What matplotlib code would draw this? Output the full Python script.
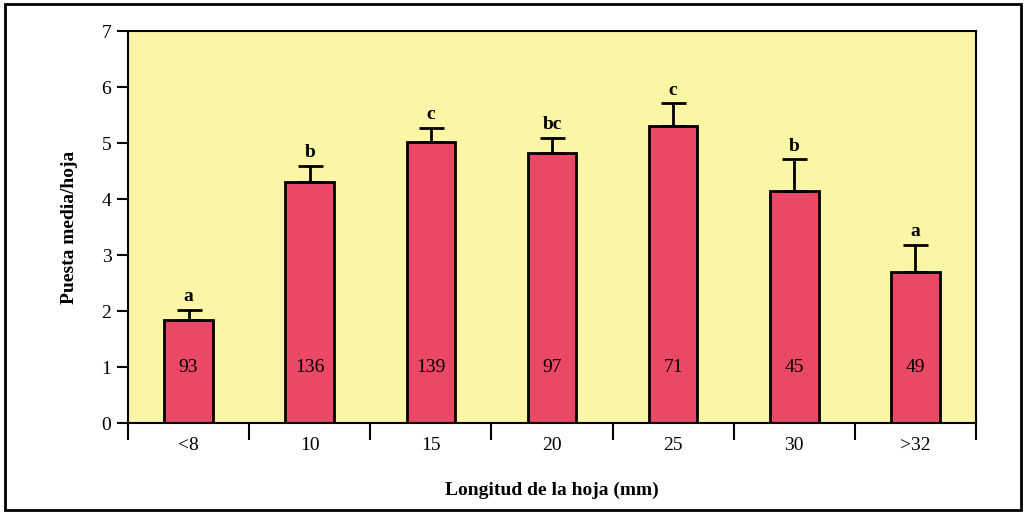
import numpy as np
import matplotlib.pyplot as plt
from matplotlib.patches import Rectangle

categories = ['<8', '10', '15', '20', '25', '30', '>32']
means = [1.84, 4.30, 5.02, 4.82, 5.30, 4.14, 2.70]
errors = [0.18, 0.29, 0.25, 0.27, 0.41, 0.57, 0.48]
letters = ['a', 'b', 'c', 'bc', 'c', 'b', 'a']
counts = [93, 136, 139, 97, 71, 45, 49]

plt.rcParams['font.family'] = ['Liberation Serif', 'DejaVu Serif']

fig = plt.figure(figsize=(10.26, 5.14), dpi=100)
ax = fig.add_axes([128/1026, 1 - 423/514, 848/1026, 392/514])
ax.set_facecolor('#faf6a6')

x = np.arange(len(categories))
ax.bar(x, means, width=0.4, color='#ea4864', edgecolor='k', linewidth=2, zorder=2)
ax.errorbar(x, means, yerr=[np.zeros(len(x)), errors], fmt='none', ecolor='k',
            elinewidth=2, capsize=9, capthick=2, zorder=3)

for i in range(len(x)):
    ax.text(x[i], means[i] + errors[i] + 0.08, letters[i], ha='center', va='bottom',
            fontsize=14, fontweight='bold')
    ax.text(x[i], 1, str(counts[i]), ha='center', va='center', fontsize=14)

ax.set_xlim(-0.5, len(x) - 0.5)
ax.set_ylim(0, 7)
ax.set_yticks(range(8))
ax.set_xticks(np.arange(len(x) + 1) - 0.5)
ax.set_xticklabels([])
ax.set_xticks(x, minor=True)
ax.set_xticklabels(categories, minor=True)
ax.tick_params(axis='x', which='minor', length=0, labelsize=14, pad=10)
ax.tick_params(axis='x', which='major', length=12, width=1.5, direction='out')
ax.tick_params(axis='y', length=8, width=1.5, labelsize=14, pad=4)
for s in ax.spines.values():
    s.set_linewidth(1.5)

ax.set_xlabel('Longitud de la hoja (mm)', fontsize=14, fontweight='bold', labelpad=20)
ax.set_ylabel('Puesta media/hoja', fontsize=14, fontweight='bold', labelpad=17)

# outer frame
fig.patches.append(Rectangle((0.005, 0.008), 0.99, 0.984, transform=fig.transFigure,
                             fill=False, edgecolor='k', linewidth=2))

fig.savefig('out.png', dpi=100)
